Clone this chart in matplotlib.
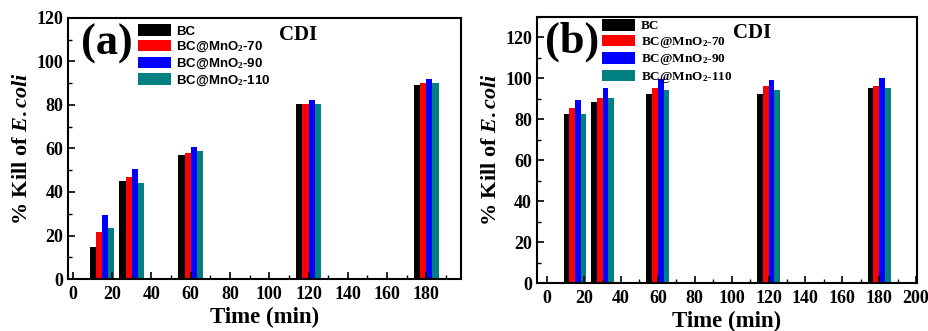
import numpy as np
import matplotlib
matplotlib.use("Agg")
import matplotlib.pyplot as plt
from matplotlib.ticker import MultipleLocator

plt.rcParams['font.family'] = 'Liberation Serif'
plt.rcParams['font.weight'] = 'bold'
plt.rcParams['mathtext.fontset'] = 'custom'
plt.rcParams['mathtext.it'] = 'Liberation Serif:italic:bold'
plt.rcParams['mathtext.rm'] = 'Liberation Serif:bold'

times = [15, 30, 60, 120, 180]
labels = ['BC', 'BC@MnO$_2$-70', 'BC@MnO$_2$-90', 'BC@MnO$_2$-110']
colors = ['black', 'red', 'blue', '#008080']

# panel (a)
a_bc = [14.7, 44.9, 56.9, 80.2, 89.0]
a_70 = [21.5, 46.9, 57.8, 80.2, 90.0]
a_90 = [29.3, 50.7, 60.7, 82.1, 92.0]
a_110 = [23.4, 44.1, 58.7, 80.2, 90.0]

# panel (b)
b_bc = [82.5, 88.2, 92.1, 92.1, 95.2]
b_70 = [85.5, 90.2, 95.0, 96.2, 96.2]
b_90 = [89.3, 95.2, 99.4, 99.1, 100.0]
b_110 = [82.5, 90.2, 94.2, 94.2, 95.2]

fig = plt.figure(figsize=(9.29, 3.31), dpi=100)
ax1 = fig.add_axes([0.0732, 0.157, 0.4228, 0.789])
ax2 = fig.add_axes([0.578, 0.145, 0.409, 0.805])

w = 3.1
x = np.array(times)


def draw(ax, series, legfont, legloc, tag, tagpos, cdipos):
    for i, (vals, c, lab) in enumerate(zip(series, colors, labels)):
        ax.bar(x + (i - 1.5) * w, vals, width=w, color=c, label=lab)
    ax.xaxis.set_major_locator(MultipleLocator(20))
    ax.xaxis.set_minor_locator(MultipleLocator(10))
    ax.yaxis.set_major_locator(MultipleLocator(20))
    ax.yaxis.set_minor_locator(MultipleLocator(10))
    ax.tick_params(which='both', direction='in', labelsize=13)
    ax.tick_params(axis='x', pad=5)
    ax.tick_params(which='major', length=5, width=1.2)
    ax.tick_params(which='minor', length=3, width=1)
    for s in ax.spines.values():
        s.set_linewidth(1.5)
    ax.set_xlabel('Time (min)', fontsize=16.5, fontweight='bold', labelpad=3)
    ax.set_ylabel('% Kill of $\\mathit{E.coli}$', fontsize=16, fontweight='bold', labelpad=3)
    leg = ax.legend(loc='upper left', bbox_to_anchor=legloc, frameon=False,
                    prop=legfont, handlelength=2.5, handleheight=0.95,
                    labelspacing=0.17, handletextpad=0.4, borderaxespad=0, borderpad=0)
    leg.set_zorder(5)
    ax.text(tagpos[0], tagpos[1], tag, transform=ax.transAxes, fontsize=32,
            fontweight='bold', ha='center', va='center')
    ax.text(cdipos[0], cdipos[1], 'CDI', transform=ax.transAxes, fontsize=15,
            fontweight='bold', ha='center', va='center')


draw(ax1, [a_bc, a_70, a_90, a_110],
     {'family': 'Liberation Sans', 'weight': 'bold', 'size': 9.5},
     (0.178, 0.975), '(a)', (0.1, 0.9), (0.585, 0.935))
ax1.set_xlim(-2.4, 197.5)
ax1.set_ylim(0, 120)

draw(ax2, [b_bc, b_70, b_90, b_110],
     {'family': 'Liberation Serif', 'weight': 'bold', 'size': 9.5},
     (0.172, 0.99), '(b)', (0.093, 0.905), (0.566, 0.94))
ax2.set_xlim(-5.6, 200.5)
ax2.set_ylim(0, 130)

fig.savefig('out.png', dpi=100)
